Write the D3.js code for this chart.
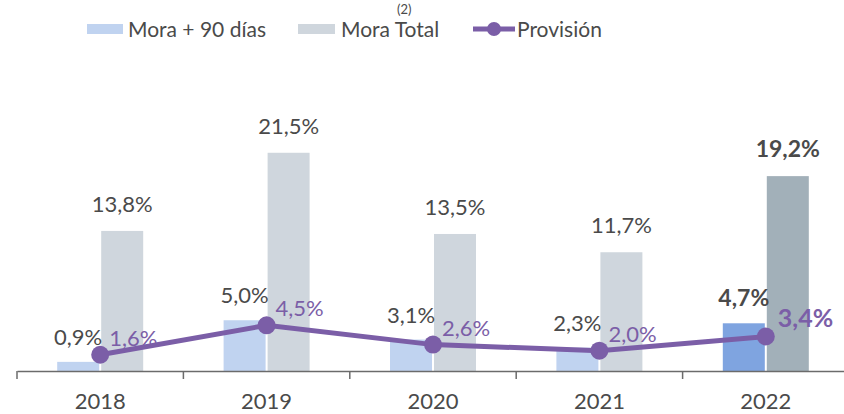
<!DOCTYPE html>
<html>
<head>
<meta charset="utf-8">
<script src="https://cdn.jsdelivr.net/npm/d3@7"></script>
<style>
  body { margin: 0; background: #fff; }
  svg text { font-family: "Lato", "Open Sans", sans-serif; }
</style>
</head>
<body>
<div id="chart"></div>
<script>
const years = ["2018", "2019", "2020", "2021", "2022"];
const mora90 = [0.9, 5.0, 3.1, 2.3, 4.7];
const moraTotal = [13.8, 21.5, 13.5, 11.7, 19.2];
const provision = [1.6, 4.5, 2.6, 2.0, 3.4];
const fmt = v => v.toFixed(1).replace(".", ",") + "%";

const width = 844, height = 414;
const svg = d3.select("#chart").append("svg")
    .attr("width", width)
    .attr("height", height);

const x = d3.scaleBand()
    .domain(years)
    .range([17, 849]);

const y = d3.scaleLinear()
    .domain([0, 30])
    .range([371, 371 - 30 * 10.15]);

const barW = 42;
const c90 = "#c0d3f0", c90hi = "#7fa4e0";
const cTot = "#cfd6dd", cTotHi = "#a2b0b9";
const cLine = "#7b5ea7";
const cText = "#4a4a4a";
const last = years[years.length - 1];

// bars Mora + 90
svg.append("g").selectAll("rect")
    .data(years)
    .join("rect")
    .attr("x", d => x(d) + x.bandwidth() / 2 - barW - 1)
    .attr("y", (d, i) => y(mora90[i]))
    .attr("width", barW)
    .attr("height", (d, i) => y(0) - y(mora90[i]))
    .attr("fill", d => d === last ? c90hi : c90);

// bars Mora Total
svg.append("g").selectAll("rect")
    .data(years)
    .join("rect")
    .attr("x", d => x(d) + x.bandwidth() / 2 + 1)
    .attr("y", (d, i) => y(moraTotal[i]))
    .attr("width", barW)
    .attr("height", (d, i) => y(0) - y(moraTotal[i]))
    .attr("fill", d => d === last ? cTotHi : cTot);

// axis
const axis = svg.append("g")
    .attr("transform", `translate(0,${y(0)})`)
    .call(d3.axisBottom(x).tickSize(0).tickPadding(0).tickFormat(""));
axis.select(".domain").attr("stroke", "#6b6b6b").attr("stroke-width", 1.5);
svg.append("g").selectAll("line")
    .data(years)
    .join("line")
    .attr("x1", d => x(d))
    .attr("x2", d => x(d))
    .attr("y1", y(0))
    .attr("y2", y(0) + 8)
    .attr("stroke", "#6b6b6b")
    .attr("stroke-width", 1.5);
svg.append("g").selectAll("text")
    .data(years)
    .join("text")
    .attr("x", d => x(d) + x.bandwidth() / 2)
    .attr("y", 409)
    .attr("text-anchor", "middle")
    .attr("font-size", 22)
    .attr("fill", cText)
    .text(d => d);

// value labels
svg.append("g").selectAll("text")
    .data(years)
    .join("text")
    .attr("x", d => x(d) + x.bandwidth() / 2 - barW / 2 - 1)
    .attr("y", (d, i) => y(mora90[i]) - 17)
    .attr("text-anchor", "middle")
    .attr("font-size", d => d === last ? 23 : 22)
    .attr("font-weight", d => d === last ? "bold" : "normal")
    .attr("fill", cText)
    .text((d, i) => fmt(mora90[i]));

svg.append("g").selectAll("text")
    .data(years)
    .join("text")
    .attr("x", d => x(d) + x.bandwidth() / 2 + barW / 2 + 1)
    .attr("y", (d, i) => y(moraTotal[i]) - 19)
    .attr("text-anchor", "middle")
    .attr("font-size", d => d === last ? 23 : 22)
    .attr("font-weight", d => d === last ? "bold" : "normal")
    .attr("fill", cText)
    .text((d, i) => fmt(moraTotal[i]));

// provision line
const cx = d => x(d) + x.bandwidth() / 2;
const line = d3.line()
    .x(d => cx(d))
    .y((d, i) => y(provision[i]));
svg.append("path")
    .datum(years)
    .attr("d", line)
    .attr("fill", "none")
    .attr("stroke", cLine)
    .attr("stroke-width", 5);
svg.append("g").selectAll("circle")
    .data(years)
    .join("circle")
    .attr("cx", cx)
    .attr("cy", (d, i) => y(provision[i]))
    .attr("r", 9)
    .attr("fill", cLine);
svg.append("g").selectAll("text")
    .data(years)
    .join("text")
    .attr("x", d => cx(d) + (d === last ? 12 : 9))
    .attr("y", (d, i) => y(provision[i]) - 9)
    .attr("font-size", d => d === last ? 25 : 22)
    .attr("font-weight", d => d === last ? "bold" : "normal")
    .attr("fill", cLine)
    .text((d, i) => fmt(provision[i]));

// legend
const leg = svg.append("g");
leg.append("rect").attr("x", 87).attr("y", 24).attr("width", 36).attr("height", 10).attr("fill", c90);
leg.append("text").attr("x", 128).attr("y", 37).attr("font-size", 21).attr("fill", cText).text("Mora + 90 días");
leg.append("rect").attr("x", 298).attr("y", 24).attr("width", 37).attr("height", 10).attr("fill", cTot);
leg.append("text").attr("x", 341).attr("y", 37).attr("font-size", 21).attr("fill", cText).text("Mora Total");
leg.append("text").attr("x", 397).attr("y", 14).attr("font-size", 13).attr("fill", cText).text("(2)");
leg.append("line").attr("x1", 473).attr("x2", 515).attr("y1", 29).attr("y2", 29).attr("stroke", cLine).attr("stroke-width", 5);
leg.append("circle").attr("cx", 494).attr("cy", 29).attr("r", 7).attr("fill", cLine);
leg.append("text").attr("x", 517).attr("y", 37).attr("font-size", 21).attr("fill", cText).text("Provisión");
</script>
</body>
</html>
